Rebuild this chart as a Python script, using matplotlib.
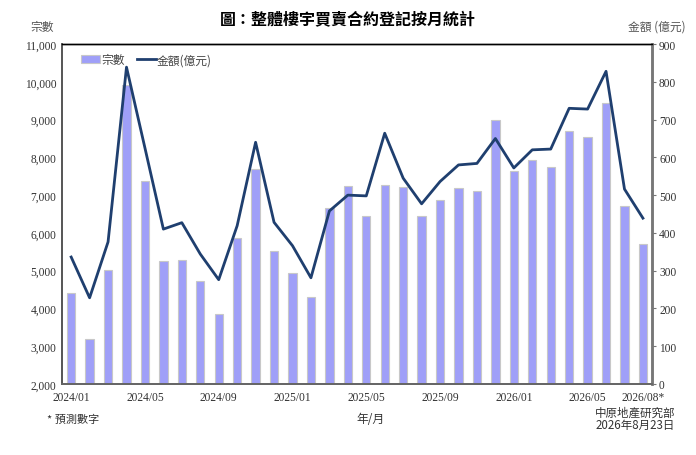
import matplotlib
matplotlib.use("Agg")
import matplotlib.pyplot as plt
import numpy as np

plt.rcParams['font.family'] = 'Liberation Serif'

# monthly data 2024/01 - 2026/08 (last month is a forecast)
months = ['2024/01', '2024/02', '2024/03', '2024/04', '2024/05', '2024/06', '2024/07', '2024/08',
          '2024/09', '2024/10', '2024/11', '2024/12', '2025/01', '2025/02', '2025/03', '2025/04',
          '2025/05', '2025/06', '2025/07', '2025/08', '2025/09', '2025/10', '2025/11', '2025/12',
          '2026/01', '2026/02', '2026/03', '2026/04', '2026/05', '2026/06', '2026/07', '2026/08*']
counts = [4410, 3200, 5020, 9920, 7370, 5250, 5270, 4730,
          3850, 5870, 7700, 5510, 4940, 4310, 6660, 7230,
          6450, 7270, 7210, 6450, 6870, 7190, 7110, 8990,
          7630, 7920, 7740, 8700, 8540, 9440, 6710, 5700]
amounts = [336, 228, 376, 839, 625, 410, 427, 344,
           276, 419, 640, 428, 366, 281, 458, 500,
           498, 664, 545, 477, 536, 580, 584, 650,
           572, 620, 622, 730, 728, 828, 516, 439]
label_every = [0, 4, 8, 12, 16, 20, 24, 28, 31]

cjk = ['Noto Sans CJK TC', 'Liberation Serif']
tick_col = '#333333'

fig = plt.figure(figsize=(6.96, 4.56), dpi=100)
ax = fig.add_axes([0.089, 0.156, 0.848, 0.745])
ax2 = ax.twinx()

x = np.arange(len(months))
ax.bar(x, counts, width=0.45, color='#9f9ff8', edgecolor='#c8c8c8', linewidth=0.8,
       label='宗數', zorder=2)
ax2.plot(x, amounts, color='#1f3f6f', linewidth=2.0, label='金額(億元)', zorder=3)

ax.set_ylim(2000, 11000)
ax.set_yticks(np.arange(2000, 11001, 1000))
ax.set_yticklabels([f'{v:,}' for v in range(2000, 11001, 1000)])
ax2.set_ylim(0, 900)
ax2.set_yticks(np.arange(0, 901, 100))
ax.set_xlim(-0.5, len(months) - 0.5)
ax.set_xticks([x[i] for i in label_every])
ax.set_xticklabels([months[i] for i in label_every])

ax.tick_params(axis='x', length=0, pad=5, labelsize=8.3, colors=tick_col)
ax.tick_params(axis='y', length=0, pad=4, labelsize=8.3, colors=tick_col)
ax2.tick_params(axis='y', length=3, width=0.8, color='#777777', pad=2, labelsize=8.3,
                colors=tick_col)

for a in (ax, ax2):
    a.spines['top'].set_color('black')
    a.spines['top'].set_linewidth(1.0)
    a.spines['left'].set_color('#555555')
    a.spines['left'].set_linewidth(1.2)
    a.spines['bottom'].set_color('#666666')
    a.spines['bottom'].set_linewidth(1.3)
    a.spines['right'].set_color('#777777')
    a.spines['right'].set_linewidth(1.8)

h1, l1 = ax.get_legend_handles_labels()
h2, l2 = ax2.get_legend_handles_labels()
leg = ax.legend(h1 + h2, l1 + l2, loc='upper left', bbox_to_anchor=(0.015, 1.005), ncol=2,
                frameon=False, prop={'family': cjk, 'size': 8.5}, handlelength=1.6,
                handletextpad=0.1, columnspacing=1.0)
for t in leg.get_texts():
    t.set_color('#444444')

fig.text(0.5, 0.955, '圖：整體樓宇買賣合約登記按月統計', ha='center', va='center',
         fontsize=11.5, fontweight='bold', family=cjk)
fig.text(0.06, 0.94, '宗數', ha='center', va='center', fontsize=8.5, color='#555555', family=cjk)
fig.text(0.985, 0.94, '金額 (億元)', ha='right', va='center', fontsize=8.5, color='#555555',
         family=cjk)
fig.text(0.533, 0.08, '年/月', ha='center', va='center', fontsize=8.5, color='#333333', family=cjk)
fig.text(0.068, 0.08, '* 預測數字', ha='left', va='center', fontsize=8, color='#333333', family=cjk)
fig.text(0.97, 0.094, '中原地產研究部', ha='right', va='center', fontsize=8.3, color='#333333',
         family=cjk)
fig.text(0.97, 0.068, '2026年8月23日', ha='right', va='center', fontsize=8.3, color='#333333',
         family=cjk)

fig.savefig('out.png', dpi=100)
